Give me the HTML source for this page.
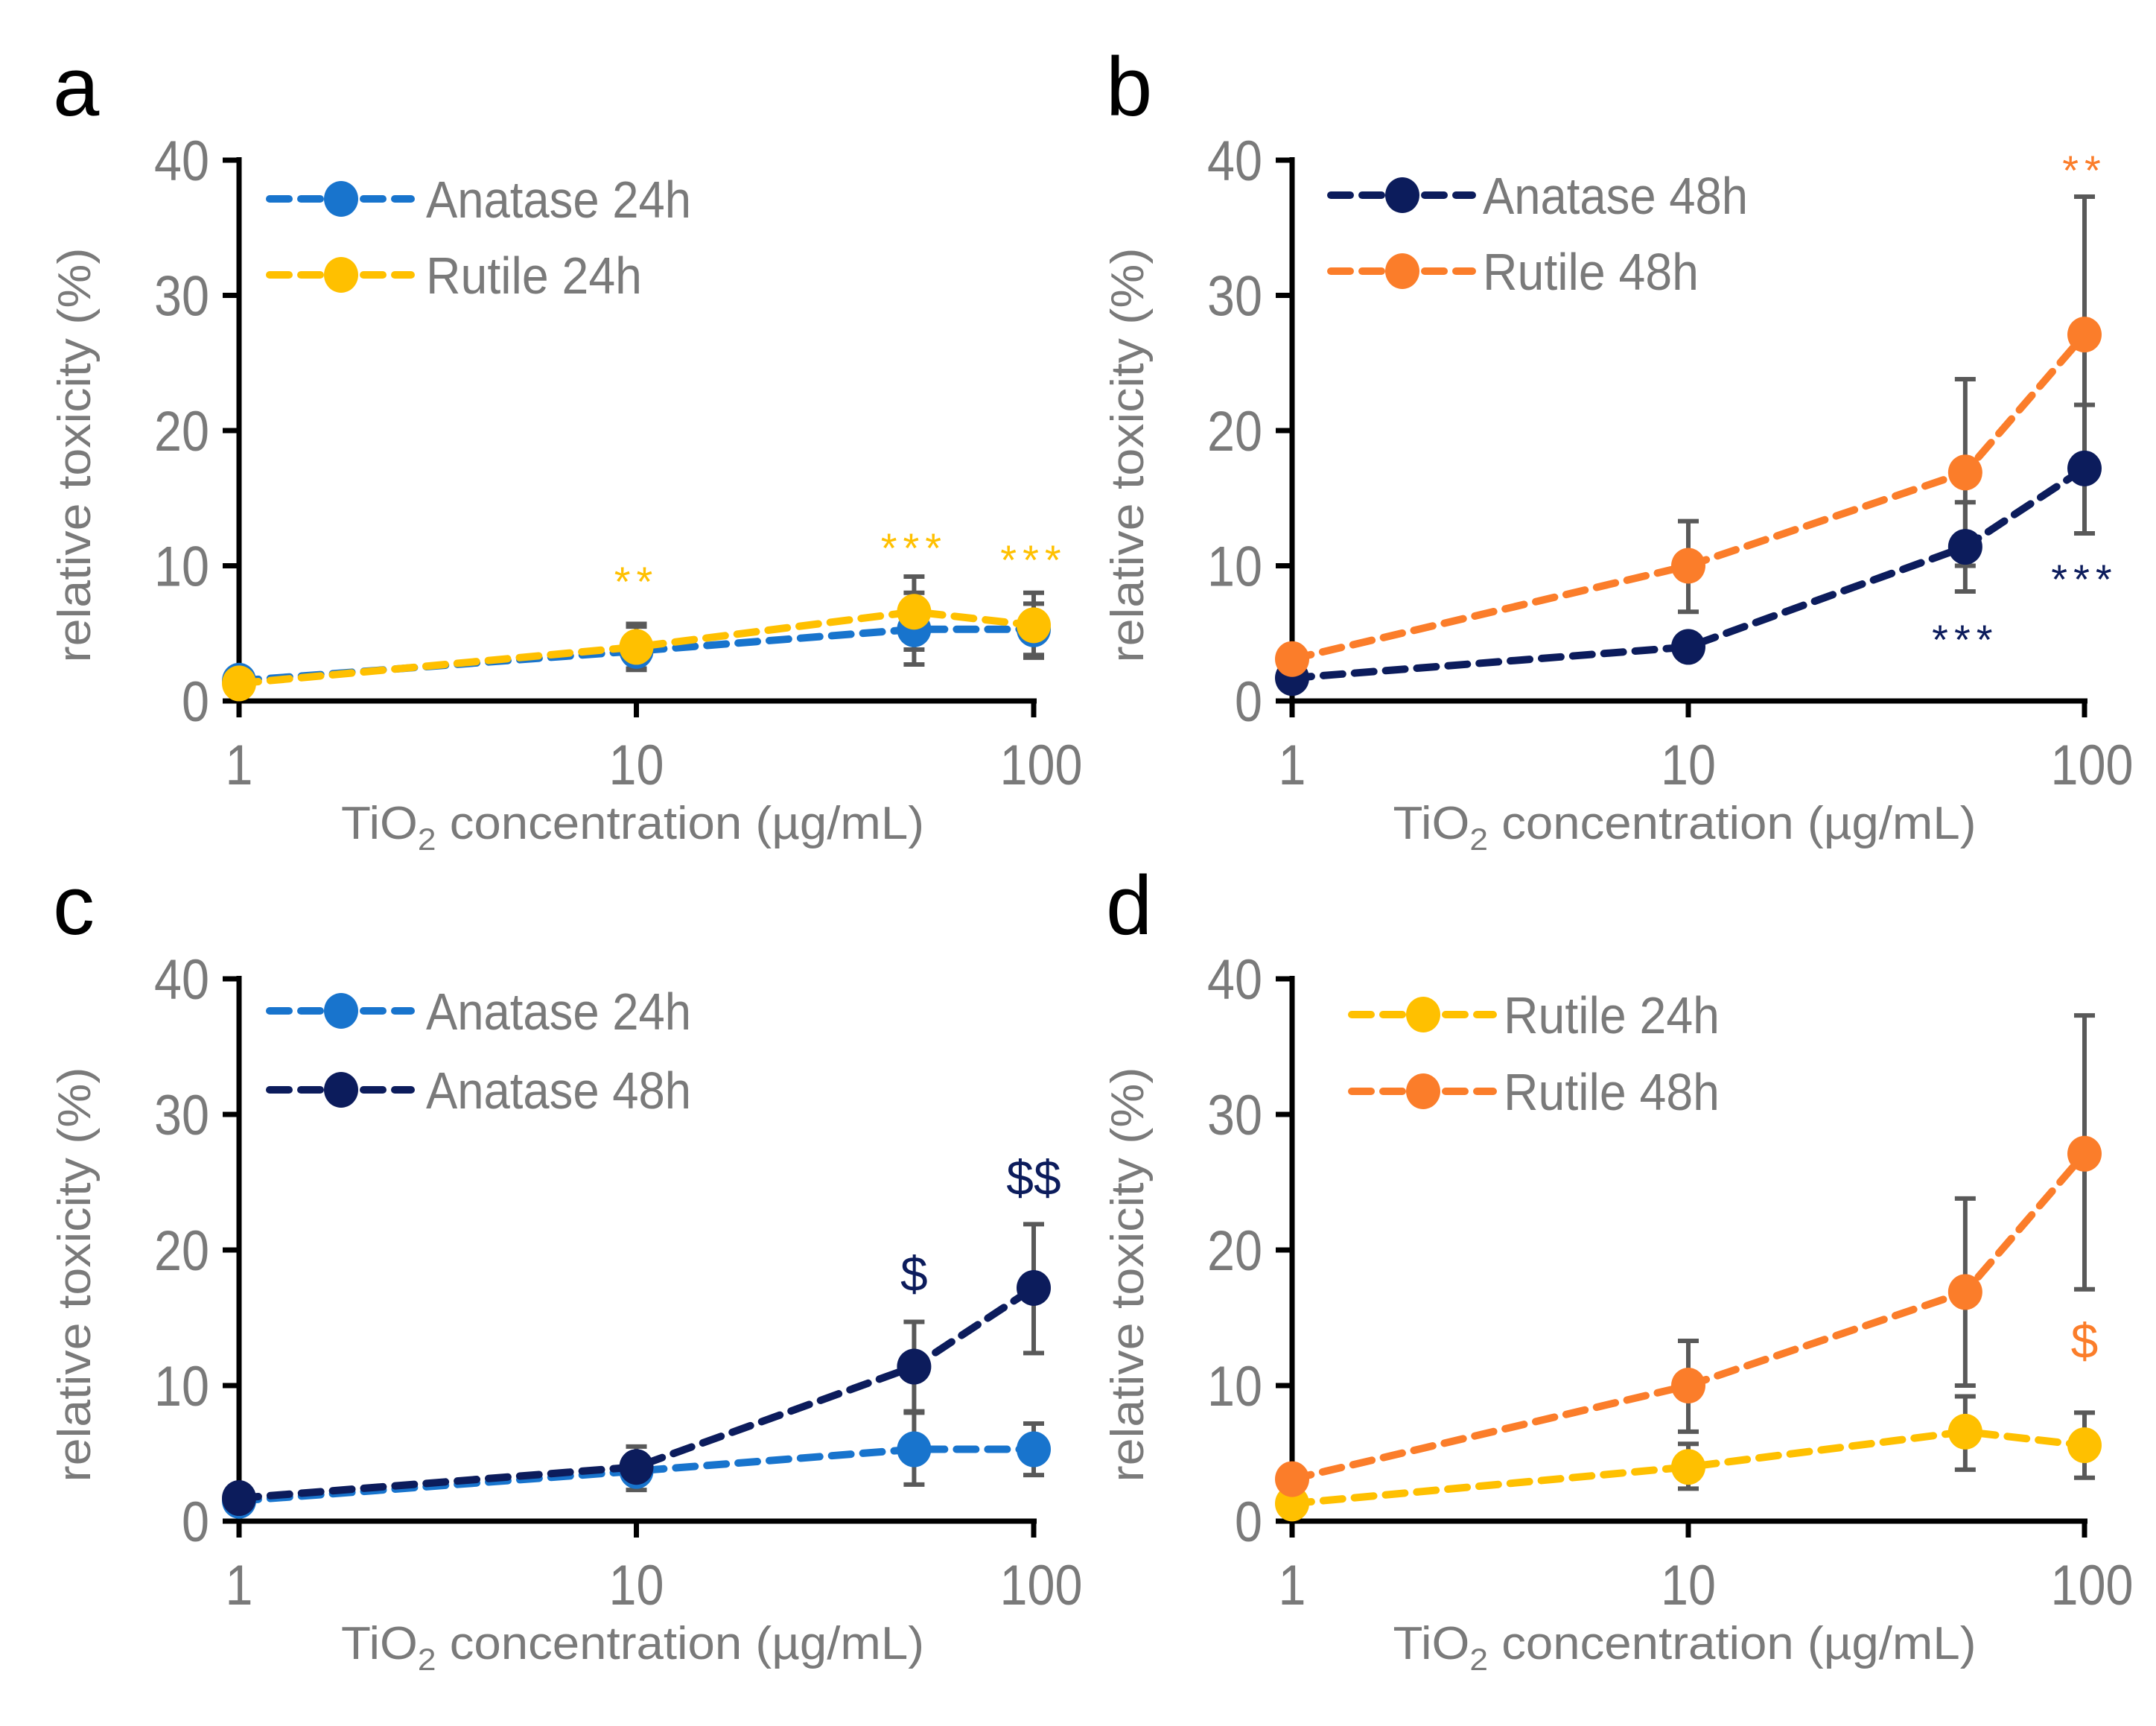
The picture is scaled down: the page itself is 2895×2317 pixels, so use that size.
<!DOCTYPE html>
<html><head><meta charset="utf-8"><style>
html,body{margin:0;padding:0;background:#fff;}
svg{display:block;}
text{font-family:"Liberation Sans",sans-serif;}
</style></head><body>
<svg id="fig" width="2895" height="2317" viewBox="0 0 2895 2317" xmlns="http://www.w3.org/2000/svg"></svg>
<script>
// ---- data ----
const xValues = [1, 10, 50, 100];
const yTicks = [0, 10, 20, 30, 40];
const xTicks = [1, 10, 100];
const anatase24 = [1.5, 3.7, 5.3, 5.3];
const anatase24Lo = [1.5, 2.3, 2.7, 3.4];
const anatase24Hi = [1.5, 5.5, 8.0, 7.2];
const rutile24 = [1.3, 4.0, 6.6, 5.6];
const rutile24Lo = [1.3, 2.4, 3.8, 3.2];
const rutile24Hi = [1.3, 5.7, 9.2, 8.0];
const anatase48 = [1.7, 4.0, 11.4, 17.2];
const anatase48Lo = [1.7, 4.0, 8.1, 12.4];
const anatase48Hi = [1.7, 4.0, 14.7, 21.9];
const rutile48 = [3.1, 10.0, 16.9, 27.1];
const rutile48Lo = [3.1, 6.6, 10.0, 17.1];
const rutile48Hi = [3.1, 13.3, 23.8, 37.3];

const C = {a24:'#1874cd', r24:'#ffc000', a48:'#0c1c5c', r48:'#fb7d2a'};
const series = {
  a24:{name:'Anatase 24h', v:anatase24, lo:anatase24Lo, hi:anatase24Hi, c:C.a24},
  r24:{name:'Rutile 24h', v:rutile24, lo:rutile24Lo, hi:rutile24Hi, c:C.r24},
  a48:{name:'Anatase 48h', v:anatase48, lo:anatase48Lo, hi:anatase48Hi, c:C.a48},
  r48:{name:'Rutile 48h', v:rutile48, lo:rutile48Lo, hi:rutile48Hi, c:C.r48}
};
const panels = [
  {id:'a', x0:321, x1:1388, y0:941, y1:215, s:['a24','r24'], legX:362, legY:[267,369], legTx:572,
   ann:[{t:'**',xi:1,y:800,c:C.r24},{t:'***',xi:2,y:755,c:C.r24},{t:'***',xi:3,y:771,c:C.r24}]},
  {id:'b', x0:1735, x1:2799, y0:941, y1:215, s:['a48','r48'], legX:1787, legY:[262,364], legTx:1991,
   ann:[{t:'**',xi:3,y:248,c:C.r48},{t:'***',xi:2,y:878,c:C.a48},{t:'***',xi:3,y:797,c:C.a48}]},
  {id:'c', x0:321, x1:1388, y0:2042, y1:1314, s:['a24','a48'], legX:362, legY:[1357,1463], legTx:572,
   ann:[{t:'$',xi:2,y:1733,c:C.a48},{t:'$$',xi:3,y:1604,c:C.a48}]},
  {id:'d', x0:1735, x1:2799, y0:2042, y1:1314, s:['r24','r48'], legX:1815, legY:[1362,1465], legTx:2019,
   ann:[{t:'$',xi:3,y:1823,c:C.r48}]}
];
const NS='http://www.w3.org/2000/svg';
const svg=document.getElementById('fig');
function mk(tag, attrs, parent){const e=document.createElementNS(NS,tag);for(const k in attrs)e.setAttribute(k,attrs[k]);(parent||svg).appendChild(e);return e;}
const GRAY='#7a7a7a', EB='#595959';

panels.forEach(p=>{
  const g=mk('g',{});
  
  
  const xs=v=>p.x0+(p.x1-p.x0)*Math.log10(v)/2;
  const ys=v=>p.y0+(p.y1-p.y0)*v/40;
  const L=mk('text',{x:p.x0-250,y:p.y1-60,'font-size':112,fill:'#000'},g);L.textContent=p.id;
  
  
  yTicks.forEach(t=>{
    const ln=mk('line',{x1:p.x0-22,x2:p.x0,y1:ys(t),y2:ys(t),stroke:'#000','stroke-width':7},g);
    
    
    const s=String(t);
    const tx=mk('text',{x:p.x0-40,y:ys(t)+27,'font-size':76,fill:GRAY,'text-anchor':'end',textLength:s.length*37,lengthAdjust:'spacingAndGlyphs'},g);tx.textContent=t;
    
    
  });
  xTicks.forEach(t=>{
    const ln=mk('line',{x1:xs(t),x2:xs(t),y1:p.y0,y2:p.y0+22,stroke:'#000','stroke-width':7},g);
    
    
    const s=String(t);
    const tx=mk('text',{x:xs(t)+(s.length>2?10:0),y:p.y0+112,'font-size':76,fill:GRAY,'text-anchor':'middle',textLength:s.length*37,lengthAdjust:'spacingAndGlyphs'},g);tx.textContent=t;
    
    
  });
  const ya=mk('line',{x1:p.x0,x2:p.x0,y1:p.y1-4,y2:p.y0+4,stroke:'#000','stroke-width':7},g);
  
  
  const xa=mk('line',{x1:p.x0-4,x2:p.x1+4,y1:p.y0,y2:p.y0,stroke:'#000','stroke-width':7},g);
  
  
  const yt=mk('text',{x:0,y:0,'font-size':62,fill:GRAY,'text-anchor':'middle',textLength:557,lengthAdjust:'spacingAndGlyphs',transform:`translate(${p.x0-200},${(p.y0+p.y1)/2+33}) rotate(-90)`},g);
  yt.textContent='relative toxicity (%)';
  
  
  const xt=mk('text',{x:(p.x0+p.x1)/2-5,y:p.y0+185,'font-size':62,fill:GRAY,'text-anchor':'middle',textLength:783,lengthAdjust:'spacingAndGlyphs'},g);
  xt.innerHTML='TiO<tspan font-size="42" dy="15">2</tspan><tspan dy="-15"> concentration (µg/mL)</tspan>';
  
  
  p.s.forEach(k=>{const S=series[k];
    xValues.forEach((xv,i)=>{ if(S.hi[i]-S.lo[i]<0.2) return;
      const eg=mk('g',{stroke:EB,'stroke-width':6},g);
      
      
      const x=xs(xv);
      mk('line',{x1:x,x2:x,y1:ys(S.lo[i]),y2:ys(S.hi[i])},eg);
      mk('line',{x1:x-14,x2:x+14,y1:ys(S.lo[i]),y2:ys(S.lo[i])},eg);
      mk('line',{x1:x-14,x2:x+14,y1:ys(S.hi[i]),y2:ys(S.hi[i])},eg);
    });
  });
  p.s.forEach(k=>{const S=series[k];
    const pts=xValues.map((xv,i)=>xs(xv)+','+ys(S.v[i])).join(' ');
    const pl=mk('polyline',{points:pts,fill:'none',stroke:S.c,'stroke-width':10,'stroke-dasharray':'26 16','stroke-linecap':'round'},g);
    
    
    xValues.forEach((xv,i)=>{
      const c=mk('ellipse',{cx:xs(xv),cy:ys(S.v[i]),rx:23,ry:24,fill:S.c},g);
      
      
    });
  });
  p.s.forEach((k,j)=>{const S=series[k];const y=p.legY[j];
    const lg=mk('g',{},g);
    
    
    mk('line',{x1:p.legX,x2:p.legX+190,y1:y,y2:y,stroke:S.c,'stroke-width':10,'stroke-dasharray':'26 16','stroke-linecap':'round'},lg);
    mk('ellipse',{cx:p.legX+96,cy:y,rx:23,ry:24,fill:S.c},lg);
    const t=mk('text',{x:p.legTx,y:y+25,'font-size':70,fill:GRAY,textLength:(S.name.length>10?356:290),lengthAdjust:'spacingAndGlyphs'},lg);t.textContent=S.name;
  });
  p.ann.forEach(a=>{
    const t=mk('text',{x:xs(xValues[a.xi]),y:a.y,'font-size':a.t.includes('$')?66:56,fill:a.c,'text-anchor':'middle','letter-spacing':a.t.includes('*')?8:0},g);
    t.textContent=a.t;
    
    
  });
});
</script>
</body></html>
